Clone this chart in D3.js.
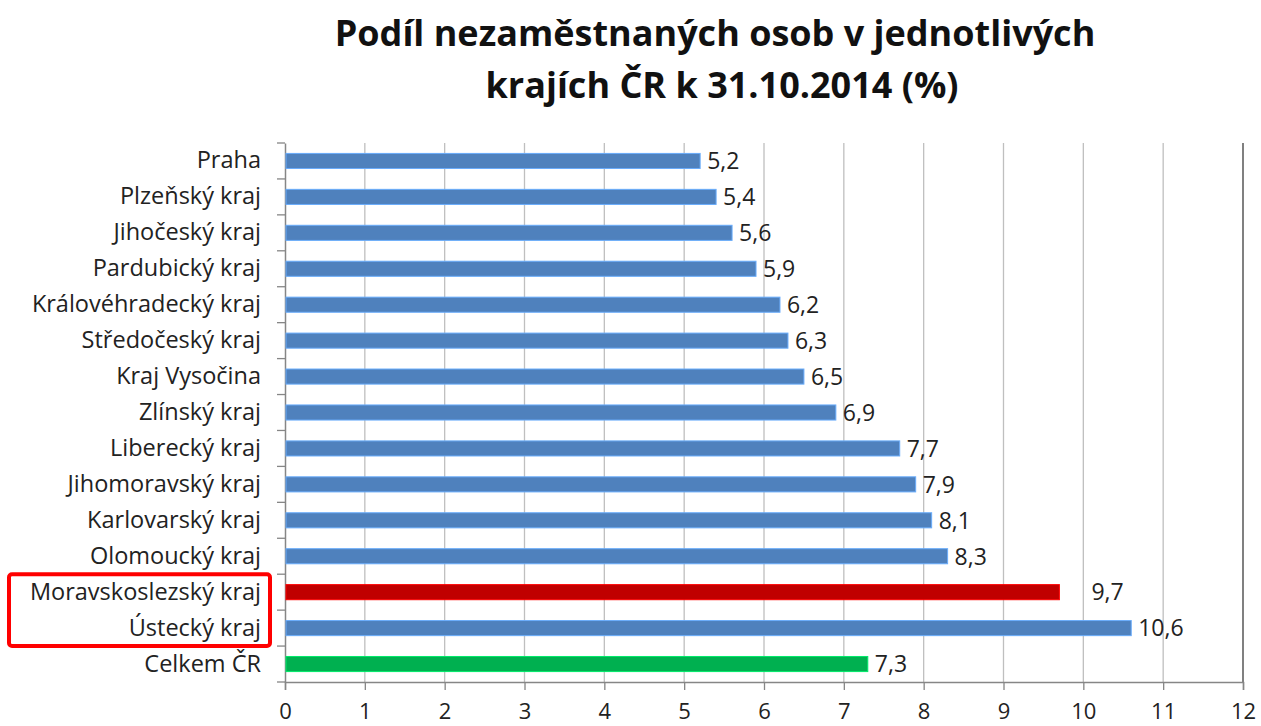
<!DOCTYPE html>
<html><head><meta charset="utf-8">
<script src="https://cdn.jsdelivr.net/npm/d3@7"></script>
<style>body{margin:0;background:#fff;}svg{display:block;}</style>
</head><body>
<script>
const categories = ["Praha","Plzeňský kraj","Jihočeský kraj","Pardubický kraj","Královéhradecký kraj","Středočeský kraj","Kraj Vysočina","Zlínský kraj","Liberecký kraj","Jihomoravský kraj","Karlovarský kraj","Olomoucký kraj","Moravskoslezský kraj","Ústecký kraj","Celkem ČR"];
const values = [5.2,5.4,5.6,5.9,6.2,6.3,6.5,6.9,7.7,7.9,8.1,8.3,9.7,10.6,7.3];
const barColors = ["#4F81BD","#4F81BD","#4F81BD","#4F81BD","#4F81BD","#4F81BD","#4F81BD","#4F81BD","#4F81BD","#4F81BD","#4F81BD","#4F81BD","#C00000","#4F81BD","#00B050"];
const xTicks = [0,1,2,3,4,5,6,7,8,9,10,11,12];
const titleLines = ["Podíl nezaměstnaných osob v jednotlivých","krajích ČR k 31.10.2014 (%)"];
const highlighted = ["Moravskoslezský kraj","Ústecký kraj"];

const W=1261,H=726;
const m={left:285,right:18,top:143,bottom:44};
const svg=d3.select("body").append("svg").attr("width",W).attr("height",H);
const font="'Open Sans', 'Liberation Sans', Arial, sans-serif";

const x=d3.scaleLinear().domain([0,12]).range([m.left,W-m.right]);
const y=d3.scaleBand().domain(categories).range([m.top,H-m.bottom]).paddingInner(0.58).paddingOuter(0.29);
const y0=H-m.bottom;

// title
svg.append("text").attr("x",715).attr("y",46).attr("text-anchor","middle")
  .attr("font-family",font).attr("font-weight","bold").attr("font-size",36).attr("fill","#111").text(titleLines[0]);
svg.append("text").attr("x",722).attr("y",98).attr("text-anchor","middle")
  .attr("font-family",font).attr("font-weight","bold").attr("font-size",36).attr("fill","#111").text(titleLines[1]);

// gridlines
svg.append("g").selectAll("line").data(xTicks.slice(1)).join("line")
  .attr("x1",d=>x(d)).attr("x2",d=>x(d)).attr("y1",m.top).attr("y2",y0)
  .attr("stroke",d=>d===12?"#808080":"#bfbfbf").attr("stroke-width",d=>d===12?2:1.3);

// x axis
const xa=svg.append("g").attr("transform",`translate(0,${y0})`)
  .call(d3.axisBottom(x).tickValues(xTicks).tickSize(8).tickPadding(13).tickFormat(d=>d));
xa.select(".domain").attr("stroke","#868686").attr("stroke-width",1.5);
xa.selectAll(".tick line").attr("stroke","#868686").attr("stroke-width",1.3);
xa.selectAll("text").attr("font-family",font).attr("font-size",22).attr("fill","#222");

// y axis
const ya=svg.append("g").attr("transform",`translate(${m.left},0)`)
  .call(d3.axisLeft(y).tickSize(0).tickPadding(24));
ya.select(".domain").attr("stroke","#868686").attr("stroke-width",1.5);
ya.selectAll("text").attr("font-family",font).attr("font-size",23.5).attr("fill","#222");
// y ticks at band boundaries
const bounds=d3.range(categories.length+1).map(i=>m.top+i*(H-m.bottom-m.top)/categories.length);
svg.append("g").selectAll("line").data(bounds).join("line")
  .attr("x1",m.left-8).attr("x2",m.left).attr("y1",d=>d).attr("y2",d=>d)
  .attr("stroke","#868686").attr("stroke-width",1.3);

// bars
const data=categories.map((c,i)=>({c,v:values[i],col:barColors[i]}));
svg.append("g").selectAll("rect").data(data).join("rect")
  .attr("x",x(0)+1).attr("y",d=>y(d.c)).attr("height",y.bandwidth())
  .attr("width",d=>x(d.v)-x(0)-1).attr("fill",d=>d.col)
  .attr("stroke",d=>d3.color(d.col).brighter(0.8)).attr("stroke-width",1);

// value labels
svg.append("g").selectAll("text").data(data).join("text")
  .attr("x",d=>x(d.v)+(d.c==="Moravskoslezský kraj"?32:7))
  .attr("y",d=>y(d.c)+y.bandwidth()/2).attr("dy","0.36em")
  .attr("font-family",font).attr("font-size",23).attr("fill","#222")
  .text(d=>d3.format(".1f")(d.v).replace(".",","));

// highlight box
const hb0=y(highlighted[0])-y.step()*0.29, hb1=y(highlighted[1])+y.bandwidth()+y.step()*0.29;
svg.append("rect").attr("x",9).attr("y",hb0).attr("width",261).attr("height",hb1-hb0)
  .attr("rx",3).attr("fill","none").attr("stroke","#FF0000").attr("stroke-width",4);
</script>
</body></html>
